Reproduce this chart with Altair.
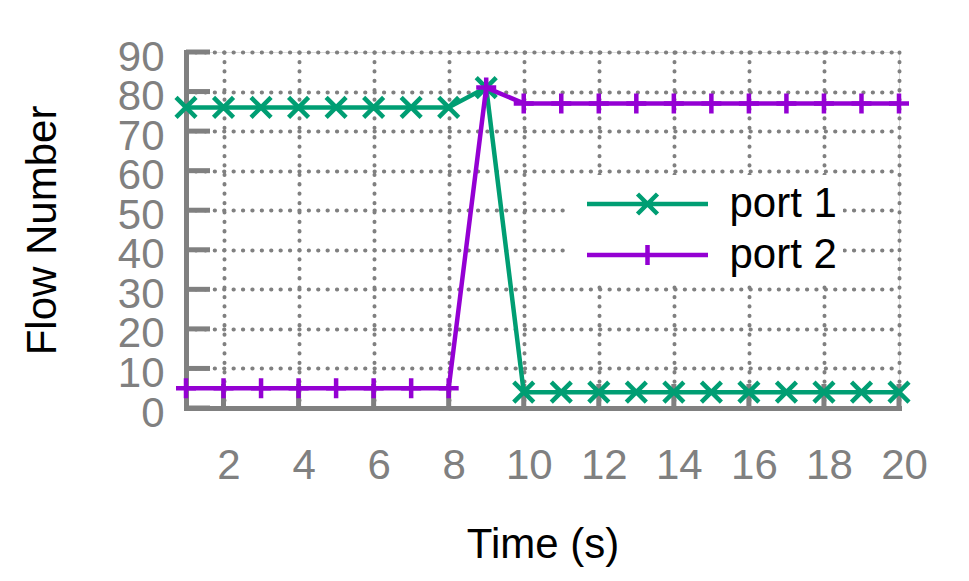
import altair as alt
import pandas as pd

# ---- data ----
time_s = [1, 2, 3, 4, 5, 6, 7, 8, 9, 10, 11, 12, 13, 14, 15, 16, 17, 18, 19, 20]
port1 = [76, 76, 76, 76, 76, 76, 76, 76, 81, 4, 4, 4, 4, 4, 4, 4, 4, 4, 4, 4]
port2 = [5, 5, 5, 5, 5, 5, 5, 5, 81, 77, 77, 77, 77, 77, 77, 77, 77, 77, 77, 77]
series_names = ["port 1", "port 2"]
series_colors = ["#009e73", "#9400d3"]
x_ticks = [2, 4, 6, 8, 10, 12, 14, 16, 18, 20]
y_ticks = [0, 10, 20, 30, 40, 50, 60, 70, 80, 90]

rows = []
for name, vals in zip(series_names, [port1, port2]):
    for t, v in zip(time_s, vals):
        rows.append({"time": t, "flows": v, "port": name})
df = pd.DataFrame(rows)

GRAY = "#808080"
FONT = "Liberation Sans"
FS = 42

x_scale = alt.Scale(domain=[1, 20], nice=False, zero=False)
y_scale = alt.Scale(domain=[0, 90], nice=False, zero=False)

common_axis = dict(
    grid=True, ticks=False, tickSize=0,
    labelFontSize=FS, labelColor=GRAY, labelFont=FONT,
    titleFont=FONT, titleFontSize=FS, titleFontWeight="normal", titleColor="black",
    titleBaseline="alphabetic",
    domainColor=GRAY, domainWidth=5, domainCap="square",
    gridColor=GRAY, gridWidth=4, gridDash=[0.3, 9.1], gridCap="round", gridOpacity=1,
    labelFlush=False, labelOverlap=False,
)
x_axis = alt.Axis(values=x_ticks, title="Time (s)", labelPadding=37, labelOffset=5,
                  titleY=149, **common_axis)
y_axis = alt.Axis(values=y_ticks, title="Flow Number", labelPadding=22, labelOffset=5,
                  titleX=-131, **common_axis)

X = alt.X("time:Q", scale=x_scale, axis=x_axis)
Y = alt.Y("flows:Q", scale=y_scale, axis=y_axis)

# inward tick marks (gnuplot style)
ytick_layer = alt.Chart(pd.DataFrame({"flows": y_ticks})).mark_rule(
    color=GRAY, strokeWidth=5, strokeCap="butt"
).encode(y=Y, x=alt.value(0), x2=alt.value(24))
xtick_layer = alt.Chart(pd.DataFrame({"time": x_ticks})).mark_rule(
    color=GRAY, strokeWidth=5, strokeCap="butt"
).encode(x=X, y=alt.value(332), y2=alt.value(356))

marker_paths = ["M-1,-1L1,1M-1,1L1,-1", "M-1,0L1,0M0,-1L0,1"]
legend_paths = [
    "M-2.881,0L2.881,0M-0.476,-0.476L0.476,0.476M-0.476,0.476L0.476,-0.476",
    "M-2.881,0L2.881,0M0,-0.476L0,0.476",
]

layers = [ytick_layer, xtick_layer]
for name, color, path in zip(series_names, series_colors, marker_paths):
    sub = alt.Chart(df).transform_filter(alt.datum.port == name)
    layers.append(sub.mark_line(color=color, strokeWidth=4.5, strokeCap="round",
                                strokeJoin="round").encode(x=X, y=Y))
    layers.append(sub.mark_point(shape=path, color=color, filled=False, opacity=1,
                                 strokeWidth=4.5, size=400).encode(x=X, y=Y))

legend = alt.Legend(
    orient="none", legendX=381, legendY=123, title=None,
    labelFont=FONT, labelFontSize=FS, labelColor="black",
    symbolStrokeWidth=4.5, symbolSize=1764, padding=5.5, rowPadding=6,
    symbolOffset=51.5, labelOffset=58.5, fillColor="white", labelLimit=400,
)
legend_layer = alt.Chart(df).transform_filter("false").mark_point(
    filled=False, opacity=1, strokeWidth=4.5, size=1764
).encode(
    x=X, y=Y,
    shape=alt.Shape("port:N", scale=alt.Scale(domain=series_names, range=legend_paths), legend=legend),
    stroke=alt.Stroke("port:N", scale=alt.Scale(domain=series_names, range=series_colors), legend=legend),
)
layers.append(legend_layer)

chart = alt.layer(*layers).properties(
    width=713, height=356,
    autosize=alt.AutoSizeParams(type="none"),
    padding={"left": 178, "top": 44, "right": 62, "bottom": 165},
).configure_view(stroke=None).configure(background="white")

chart.save("out.html", embed_options={"renderer": "svg", "actions": False})
